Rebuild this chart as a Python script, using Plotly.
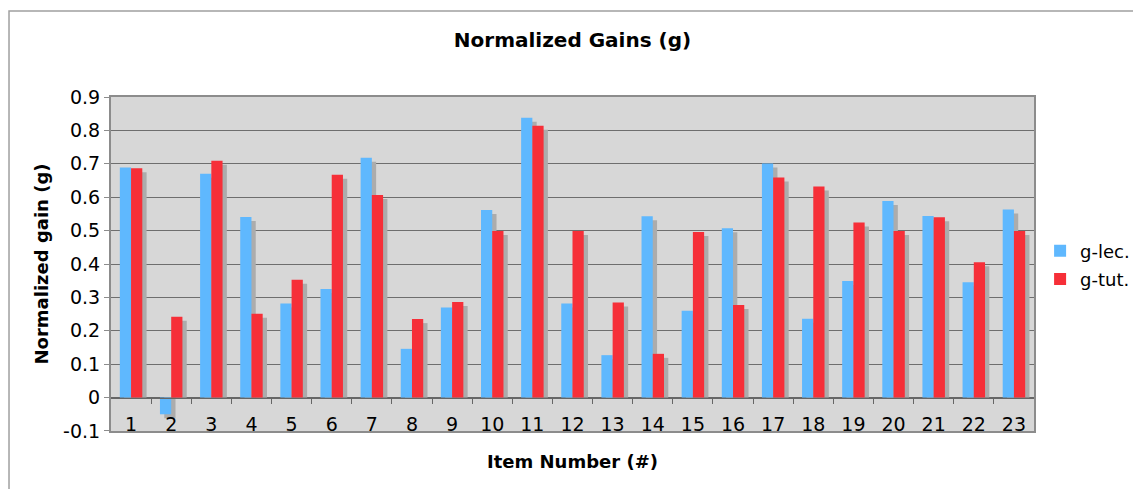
import plotly.graph_objects as go

items = list(range(1, 24))
item_labels = [str(i) for i in items]
g_lec = [0.689, -0.050, 0.670, 0.541, 0.282, 0.325, 0.718, 0.146, 0.270, 0.562, 0.838, 0.282,
         0.127, 0.543, 0.260, 0.507, 0.701, 0.236, 0.349, 0.589, 0.544, 0.345, 0.563]
g_tut = [0.687, 0.242, 0.709, 0.251, 0.353, 0.667, 0.607, 0.235, 0.286, 0.499, 0.814, 0.499,
         0.285, 0.131, 0.496, 0.277, 0.659, 0.632, 0.524, 0.499, 0.540, 0.405, 0.499]
y_ticks = [-0.1, 0, 0.1, 0.2, 0.3, 0.4, 0.5, 0.6, 0.7, 0.8, 0.9]
y_tick_text = ["-0.1", "0", "0.1", "0.2", "0.3", "0.4", "0.5", "0.6", "0.7", "0.8", "0.9"]

BLUE = "#5fb8fe"
RED = "#f62f38"
SHADOW = "#acacac"
BW = 0.28
SDX = 0.107
SDY = 0.012
FONT = "DejaVu Sans"

fig = go.Figure()
fig.add_trace(go.Bar(x=items, y=[v - SDY for v in g_lec], base=0, width=BW, offset=-BW + SDX,
                     marker=dict(color=SHADOW, line=dict(width=0)), showlegend=False, hoverinfo="skip"))
fig.add_trace(go.Bar(x=items, y=[v - SDY for v in g_tut], base=0, width=BW, offset=SDX,
                     marker=dict(color=SHADOW, line=dict(width=0)), showlegend=False, hoverinfo="skip"))
fig.add_trace(go.Bar(x=items, y=g_lec, width=BW, offset=-BW, name="g-lec.", legendgroup="a",
                     marker=dict(color=BLUE, line=dict(width=0))))
fig.add_trace(go.Bar(x=items, y=g_tut, width=BW, offset=0, name="g-tut.", legendgroup="b",
                     marker=dict(color=RED, line=dict(width=0))))
# helper invisible trace for the boundary tick axis at zero
fig.add_trace(go.Scatter(x=[items[0]], y=[0], xaxis="x2", yaxis="y", mode="markers",
                         marker=dict(opacity=0), showlegend=False, hoverinfo="skip"))

fig.update_layout(
    width=1133, height=489,
    margin=dict(l=111, r=99, t=97, b=58),
    paper_bgcolor="white", plot_bgcolor="#d7d7d7",
    barmode="overlay",
    font=dict(family=FONT, color="black", size=19),
    title=dict(text="<b>Normalized Gains (g)</b>", x=0.5, xref="paper", xanchor="center",
               y=0.918, yref="container", yanchor="middle", font=dict(size=20, family=FONT),
               automargin=False),
    xaxis=dict(range=[0.5, 23.5], tickmode="array", tickvals=items, ticktext=item_labels,
               ticks="", ticklabelstandoff=-25, showgrid=False, zeroline=False,
               showline=True, linecolor="#8c8c8c", linewidth=2, mirror=True,
               tickfont=dict(size=19), automargin=False,
               title=dict(text="<b>Item Number (#)</b>", font=dict(size=18), standoff=22)),
    xaxis2=dict(range=[0.5, 23.5], overlaying="x", anchor="free", position=0.1,
                tickmode="array", tickvals=[i + 0.5 for i in items[:-1]],
                ticks="outside", ticklen=5, tickcolor="#666666", showticklabels=False,
                showgrid=False, zeroline=False, showline=True, linecolor="#666666", linewidth=1,
                automargin=False),
    yaxis=dict(range=[-0.1001, 0.9001], tickmode="array", tickvals=y_ticks, ticktext=y_tick_text,
               ticks="outside", ticklen=5, tickcolor="#8c8c8c", showgrid=True,
               gridcolor="#6e6e6e", gridwidth=1, zeroline=True, zerolinecolor="#666666",
               zerolinewidth=1, showline=True, linecolor="#8c8c8c", linewidth=2, mirror=True,
               tickfont=dict(size=19), automargin=False,
               title=dict(text="<b>Normalized gain (g)</b>", font=dict(size=18), standoff=10)),
    legend=dict(xref="container", yref="container", x=0.918, xanchor="left",
                y=1 - 265 / 489, yanchor="middle", traceorder="grouped", tracegroupgap=2,
                font=dict(size=18), bgcolor="rgba(0,0,0,0)", itemwidth=30),
    shapes=[dict(type="rect", xref="paper", yref="paper", x0=-0.1105, x1=1.12, y0=-0.2, y1=1.2575,
                 line=dict(color="#a0a0a0", width=1.5), fillcolor="rgba(0,0,0,0)", layer="below")],
)

fig.write_html("out.html", config={"displayModeBar": False},
               post_script="document.body.style.margin='0px';")
